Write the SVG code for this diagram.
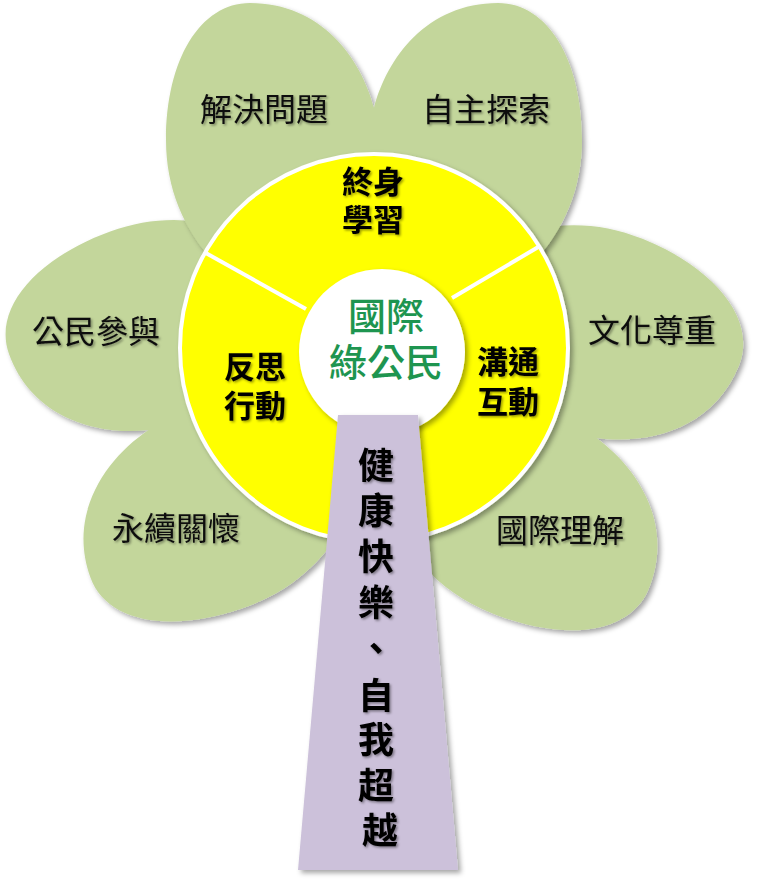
<svg xmlns="http://www.w3.org/2000/svg" width="757" height="893" viewBox="0 0 757 893">
  <defs>
    <path id="heart" d="M 0,-240 C -13,-290 -53,-345 -124,-345 C -174,-345 -208,-288 -208,-208 C -208,-100 -120,-30 0,0 C 120,-30 208,-100 208,-208 C 208,-288 174,-345 124,-345 C 53,-345 13,-290 0,-240 Z"/>
    <filter id="sh" x="-10%" y="-10%" width="125%" height="125%">
      <feDropShadow dx="3" dy="3" stdDeviation="2.5" flood-color="#000" flood-opacity="0.35"/>
    </filter>
    <filter id="tsh" x="-10%" y="-10%" width="125%" height="130%">
      <feDropShadow dx="1.5" dy="1.5" stdDeviation="1" flood-color="#000" flood-opacity="0.4"/>
    </filter>
  </defs>
  <style>
    .petal { fill: #C3D69B; }
    .ptxt { font-family: "Noto Sans CJK TC", "Noto Sans CJK SC", sans-serif; font-size: 32px; font-weight: 400; fill: #111; text-anchor: middle; }
    .ytxt { font-family: "Noto Sans CJK TC", "Noto Sans CJK SC", sans-serif; font-size: 31px; font-weight: 700; fill: #000; text-anchor: middle; }
    .ctxt { font-family: "Noto Sans CJK TC", "Noto Sans CJK SC", sans-serif; font-size: 38px; font-weight: 500; fill: #1E9550; text-anchor: middle; }
    .ttxt { font-family: "Noto Sans CJK TC", "Noto Sans CJK SC", sans-serif; font-size: 36px; font-weight: 700; fill: #000; text-anchor: middle; }
    .div { stroke: #fff; stroke-width: 4; }
  </style>
  <rect width="757" height="893" fill="#fff"/>

  <g id="heart-left" filter="url(#sh)">
    <use href="#heart" class="petal" transform="translate(374,348) rotate(-110) scale(0.96,1)"/>
  </g>
  <g id="heart-right" filter="url(#sh)">
    <use href="#heart" class="petal" transform="translate(374,348) rotate(112) scale(0.97,1)"/>
  </g>
  <g id="heart-top" filter="url(#sh)">
    <use href="#heart" class="petal" transform="translate(374,348)"/>
  </g>

  <g id="petal-labels" filter="url(#tsh)">
    <text class="ptxt" x="264" y="121">解決問題</text>
    <text class="ptxt" x="486" y="121">自主探索</text>
    <text class="ptxt" x="96" y="343">公民參與</text>
    <text class="ptxt" x="652" y="342">文化尊重</text>
    <text class="ptxt" x="176" y="540">永續關懷</text>
    <text class="ptxt" x="560" y="542">國際理解</text>
  </g>

  <g id="ring">
    <circle cx="374" cy="348" r="194" fill="#FFFF00" stroke="#fff" stroke-width="4" filter="url(#sh)"/>
  </g>
  <g id="dividers">
    <line class="div" x1="204" y1="252" x2="306" y2="309"/>
    <line class="div" x1="540" y1="246" x2="452" y2="298"/>
  </g>

  <g id="ring-labels" filter="url(#tsh)">
    <text class="ytxt" x="373" y="193">終身</text>
    <text class="ytxt" x="373" y="231">學習</text>
    <text class="ytxt" x="255" y="378">反思</text>
    <text class="ytxt" x="255" y="417">行動</text>
    <text class="ytxt" x="508" y="373">溝通</text>
    <text class="ytxt" x="508" y="413">互動</text>
  </g>

  <g id="center">
    <circle cx="382" cy="352" r="83" fill="#fff" filter="url(#sh)"/>
    <text class="ctxt" x="386" y="330">國際</text>
    <text class="ctxt" x="386" y="376">綠公民</text>
  </g>

  <g id="trunk">
    <polygon points="338,415 418,415 458,870 298,870" fill="#CCC1DA" filter="url(#sh)"/>
    <text class="ttxt" filter="url(#tsh)">
      <tspan x="380" y="479">健</tspan>
      <tspan x="380" y="524">康</tspan>
      <tspan x="380" y="570">快</tspan>
      <tspan x="380" y="616">樂</tspan>
      <tspan x="380" y="662">、</tspan>
      <tspan x="380" y="709">自</tspan>
      <tspan x="380" y="753">我</tspan>
      <tspan x="380" y="799">超</tspan>
      <tspan x="380" y="844">越</tspan>
    </text>
  </g>
  <g id="connectors"/>
</svg>
